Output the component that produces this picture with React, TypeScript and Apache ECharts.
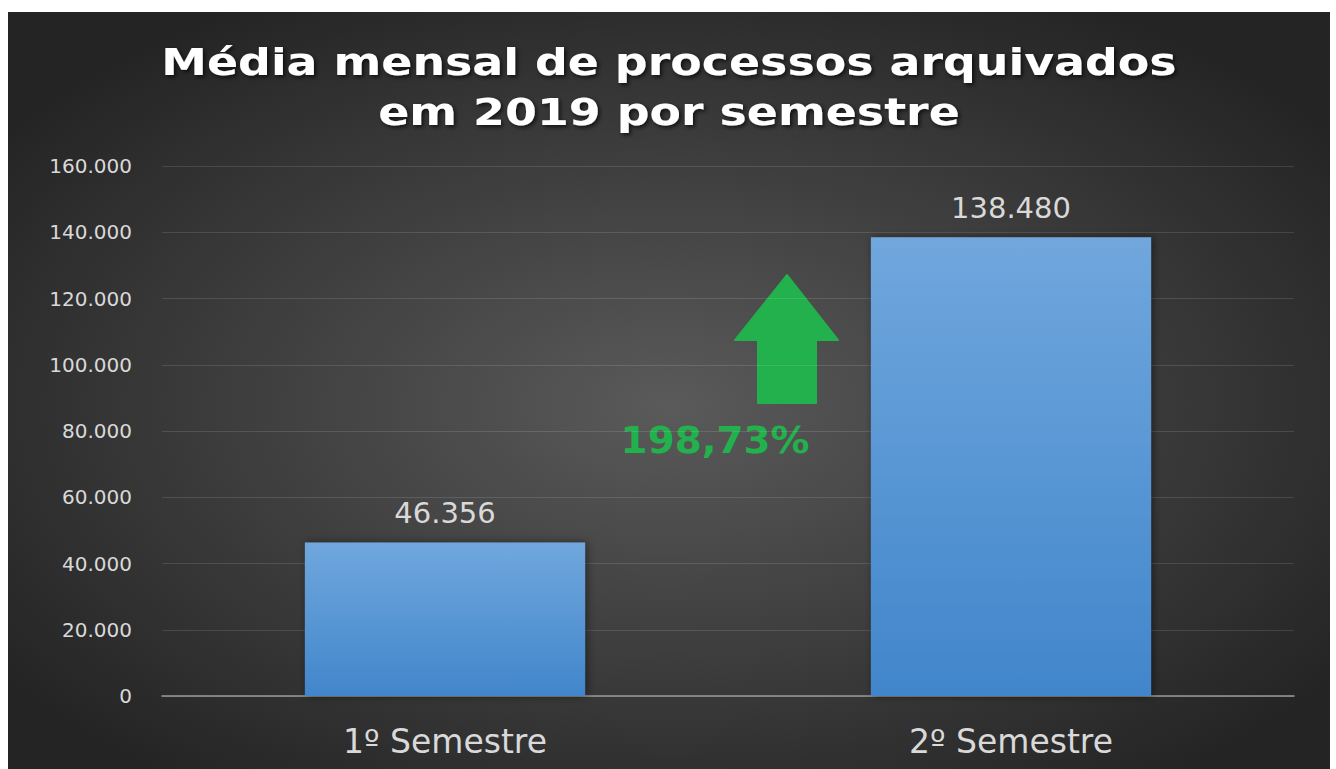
import React, { useEffect, useRef } from "react";
import * as echarts from "echarts";

const titleLines = ["Média mensal de processos arquivados", "em 2019 por semestre"];
const categories = ["1º Semestre", "2º Semestre"];
const values = [46356, 138480];
const yMin = 0;
const yMax = 160000;
const yInterval = 20000;

const fmt = (v: number) => String(Math.round(v)).replace(/\B(?=(\d{3})+(?!\d))/g, ".");
const growth = ((values[1] / values[0] - 1) * 100).toFixed(2).replace(".", ",") + "%";

export default function App() {
  const ref = useRef<HTMLDivElement>(null);
  useEffect(() => {
    if (!ref.current) return;
    const chart = echarts.init(ref.current, null, { renderer: "svg" });
    const font = "DejaVu Sans";
    chart.setOption({
      animation: false,
      backgroundColor: {
        type: "radial",
        x: 0.5,
        y: 0.52,
        r: 0.62,
        colorStops: [
          { offset: 0, color: "#5a5a5a" },
          { offset: 1, color: "#242424" },
        ],
      },
      grid: { left: 154, right: 36, top: 154, bottom: 73, containLabel: false },
      xAxis: {
        type: "category",
        data: categories,
        axisLine: { show: true, lineStyle: { color: "#9a9a9a", width: 1.5 } },
        axisTick: { show: false },
        axisLabel: { color: "#d9d9d9", fontSize: 33, fontFamily: font, margin: 29 },
      },
      yAxis: {
        type: "value",
        min: yMin,
        max: yMax,
        interval: yInterval,
        axisLine: { show: false },
        axisTick: { show: false },
        splitLine: { lineStyle: { color: "rgba(255,255,255,0.12)", width: 1 } },
        axisLabel: { color: "#d9d9d9", fontSize: 20, fontFamily: font, margin: 30, formatter: (v: number) => fmt(v) },
      },
      series: [
        {
          type: "bar",
          data: values,
          barWidth: "49.5%",
          itemStyle: {
            color: {
              type: "linear",
              x: 0, y: 0, x2: 0, y2: 1,
              colorStops: [
                { offset: 0, color: "#70a7dd" },
                { offset: 1, color: "#4186cb" },
              ],
            },
            shadowColor: "rgba(0,0,0,0.45)",
            shadowBlur: 8,
            shadowOffsetX: 2,
          },
          label: {
            show: true,
            position: "top",
            distance: 15,
            color: "#d9d9d9",
            fontSize: 29,
            fontFamily: font,
            formatter: (p: any) => fmt(p.value),
          },
        },
      ],
      graphic: [
        {
          type: "text",
          x: 661,
          y: 25,
          scaleX: 1.24,
          style: {
            text: titleLines.join("\n"),
            fill: "#ffffff",
            font: `bold 37px "${font}"`,
            textAlign: "center",
            textVerticalAlign: "top",
            lineHeight: 50,
            textShadowColor: "rgba(0,0,0,0.7)",
            textShadowBlur: 4,
            textShadowOffsetX: 2,
            textShadowOffsetY: 2,
          },
        },
        {
          type: "polygon",
          shape: {
            points: [
              [779, 263],
              [830, 328],
              [808, 328],
              [808, 391],
              [750, 391],
              [750, 328],
              [727, 328],
            ],
          },
          style: { fill: "#22b14c", stroke: "#22b14c", lineWidth: 2, lineJoin: "round" },
        },
        {
          type: "text",
          x: 707,
          y: 428,
          scaleX: 1.05,
          style: {
            text: growth,
            fill: "#22b14c",
            font: `bold 37px "${font}"`,
            textAlign: "center",
            textVerticalAlign: "middle",
          },
        },
      ],
    });
    return () => chart.dispose();
  }, []);
  return (
    <div
      ref={ref}
      style={{ position: "absolute", left: 8, top: 12, width: 1322, height: 757 }}
    />
  );
}
